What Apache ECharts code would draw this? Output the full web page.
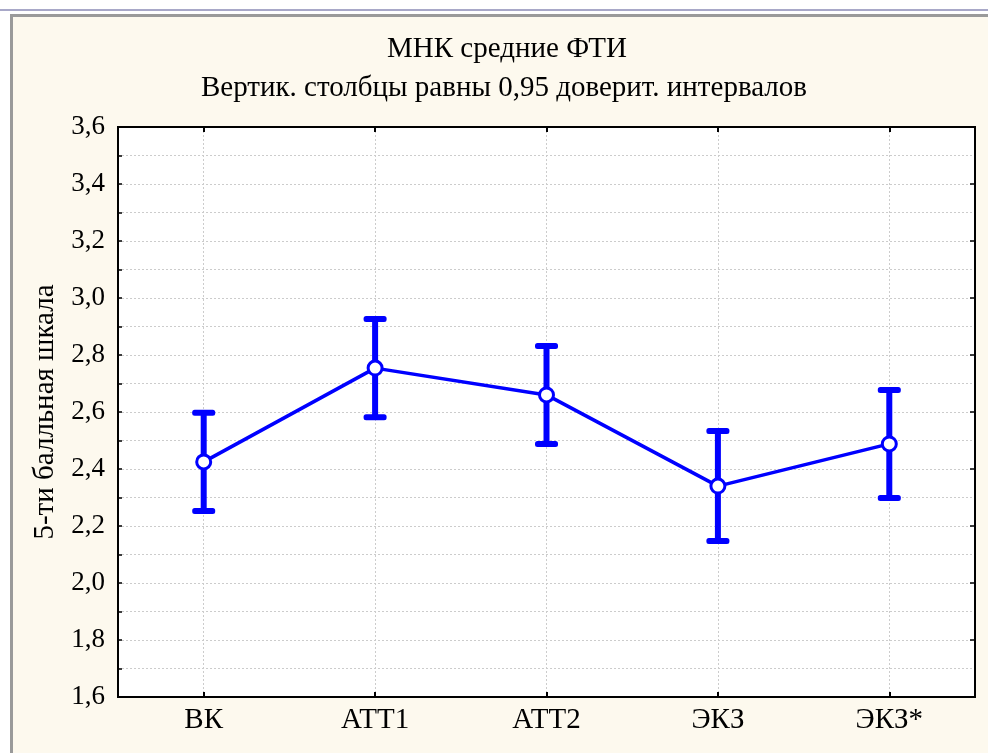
<!DOCTYPE html>
<html>
<head>
<meta charset="utf-8">
<script src="https://cdn.jsdelivr.net/npm/echarts@6/dist/echarts.min.js"></script>
<style>
html,body{margin:0;padding:0;background:#ffffff;}
#chart{width:988px;height:753px;}
</style>
</head>
<body>
<div id="chart"></div>
<script>
const categories = ['ВК', 'АТТ1', 'АТТ2', 'ЭКЗ', 'ЭКЗ*'];
const means = [2.425, 2.754, 2.660, 2.340, 2.488];
const lower = [2.253, 2.582, 2.488, 2.147, 2.298];
const upper = [2.597, 2.926, 2.832, 2.533, 2.677];
const titleLine1 = 'МНК средние ФТИ';
const titleLine2 = 'Вертик. столбцы равны 0,95 доверит. интервалов';
const yAxisName = '5-ти балльная шкала';

const FONT = '"Liberation Serif", "Times New Roman", serif';
const BLUE = '#0000FF';

const chart = echarts.init(document.getElementById('chart'), null, {renderer: 'canvas'});

const errData = categories.map((c, i) => [i, lower[i], upper[i]]);

const option = {
  backgroundColor: '#ffffff',
  animation: false,
  graphic: [
    {type: 'rect', shape: {x: 0, y: 9, width: 988, height: 2}, style: {fill: '#a8a8c8'}, z: -10, silent: true},
    {type: 'rect', shape: {x: 10, y: 14, width: 990, height: 750}, style: {fill: '#fdf9ee'}, z: -10, silent: true},
    {type: 'rect', shape: {x: 10, y: 14, width: 990, height: 3}, style: {fill: '#9a9a9a'}, z: -9, silent: true},
    {type: 'rect', shape: {x: 10, y: 14, width: 3, height: 750}, style: {fill: '#9a9a9a'}, z: -9, silent: true},
    {type: 'text', x: 507, y: 49, style: {text: titleLine1, font: '29px ' + FONT, fill: '#000', textAlign: 'center', textVerticalAlign: 'middle'}, z: 10},
    {type: 'text', x: 504, y: 88, style: {text: titleLine2, font: '29px ' + FONT, fill: '#000', textAlign: 'center', textVerticalAlign: 'middle'}, z: 10}
  ],
  grid: {
    left: 118, top: 127, width: 857, height: 570,
    show: true, backgroundColor: '#ffffff', borderColor: '#000', borderWidth: 2
  },
  xAxis: [
    {
      type: 'category', data: categories, boundaryGap: true, position: 'bottom',
      axisLine: {show: true, lineStyle: {color: '#000', width: 2}},
      axisTick: {show: true, alignWithLabel: true, inside: true, length: 5, lineStyle: {color: '#000', width: 2}},
      axisLabel: {color: '#000', fontFamily: FONT, fontSize: 29, margin: 9},
      splitLine: {show: false}
    },
    {
      type: 'category', data: categories, boundaryGap: true, position: 'top',
      axisLine: {show: true, lineStyle: {color: '#000', width: 2}},
      axisTick: {show: true, alignWithLabel: true, inside: true, length: 5, lineStyle: {color: '#000', width: 2}},
      axisLabel: {show: false},
      splitLine: {show: false}
    }
  ],
  yAxis: [
    {
      type: 'value', min: 1.6, max: 3.6, interval: 0.2, position: 'left',
      name: yAxisName, nameLocation: 'middle', nameGap: 58, nameRotate: 90,
      nameTextStyle: {color: '#000', fontFamily: FONT, fontSize: 29},
      axisLine: {show: true, lineStyle: {color: '#000', width: 2}},
      axisTick: {show: true, inside: true, length: 4, lineStyle: {color: '#000', width: 1.5}},
      minorTick: {show: true, splitNumber: 2, length: 4, lineStyle: {color: '#000', width: 1.5}},
      axisLabel: {color: '#000', fontFamily: FONT, fontSize: 27, margin: 13,
        formatter: v => v.toFixed(1).replace('.', ',')},
      splitLine: {show: true, lineStyle: {color: '#cccccc', type: [2, 2], width: 1}},
      minorSplitLine: {show: true, lineStyle: {color: '#cccccc', type: [2, 2], width: 1}}
    },
    {
      type: 'value', min: 1.6, max: 3.6, interval: 0.2, position: 'right',
      axisLine: {show: true, lineStyle: {color: '#000', width: 2}},
      axisTick: {show: true, inside: true, length: 5, lineStyle: {color: '#000', width: 1.5}},
      axisLabel: {show: false},
      splitLine: {show: false}
    }
  ],
  series: [
    {
      type: 'line', name: 'grid-v', data: [], silent: true, z: 0,
      markLine: {
        silent: true, symbol: 'none', label: {show: false}, z: 0,
        lineStyle: {color: '#cccccc', type: [2, 2], width: 1},
        data: categories.map(c => ({xAxis: c}))
      }
    },
    {
      type: 'custom', name: 'ci', data: errData, z: 3, silent: true,
      renderItem: function (params, api) {
        const x = api.value(0);
        const lo = api.coord([x, api.value(1)]);
        const hi = api.coord([x, api.value(2)]);
        const w = 6, capW = 23, capH = 6;
        const st = {fill: BLUE, stroke: null};
        return {
          type: 'group',
          children: [
            {type: 'rect', shape: {x: lo[0] - w / 2, y: hi[1], width: w, height: lo[1] - hi[1]}, style: st},
            {type: 'rect', shape: {x: lo[0] - capW / 2, y: lo[1] - capH / 2, width: capW, height: capH, r: 2.5}, style: st},
            {type: 'rect', shape: {x: hi[0] - capW / 2, y: hi[1] - capH / 2, width: capW, height: capH, r: 2.5}, style: st}
          ]
        };
      }
    },
    {
      type: 'line', name: 'mean', data: means, z: 5,
      lineStyle: {color: BLUE, width: 3.5},
      symbol: 'circle', symbolSize: 14,
      itemStyle: {color: '#ffffff', borderColor: BLUE, borderWidth: 3}
    }
  ]
};
chart.setOption(option);
</script>
</body>
</html>
